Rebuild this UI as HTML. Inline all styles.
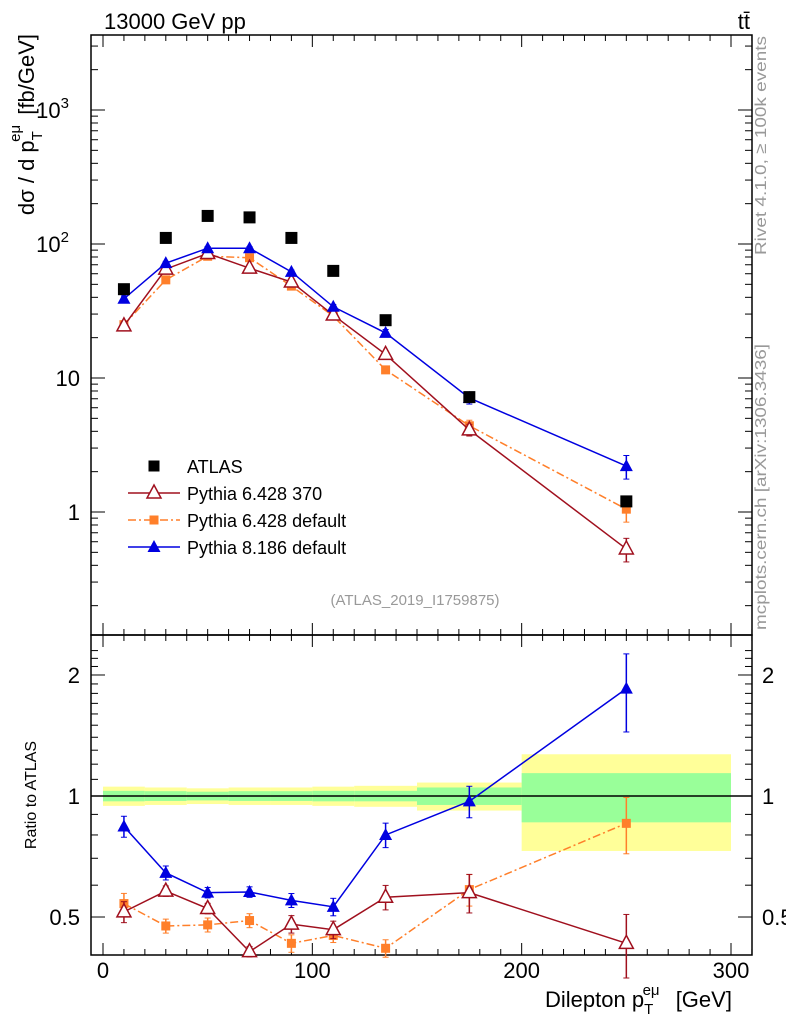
<!DOCTYPE html>
<html><head><meta charset="utf-8"><style>
body{margin:0;background:#fff;}
svg{display:block;font-family:"Liberation Sans",sans-serif;}
</style></head><body>
<svg id="c" width="786" height="1024" viewBox="0 0 786 1024"></svg>
<script>
const xCenters=[10,30,50,70,90,110,135,175,250];
const atlas=[46,111,162,158,111,63,27,7.2,1.2];
const py6370=[24.5,65,85,66,52,29.5,15,4.1,0.53];
const py6def=[25,54,81,79,48.5,29,11.5,4.4,1.05];
const py8=[39,72,93,93,62,34,21.7,7.1,2.2];
const r6370=[0.515,0.58,0.525,0.41,0.48,0.465,0.56,0.575,0.43];
const r6370Err=[0.06,0.03,0.03,0.03,0.05,0.05,0.07,0.11,0.18];
const r6def=[0.54,0.475,0.478,0.49,0.43,0.45,0.418,0.585,0.855];
const r6defErr=[0.06,0.04,0.04,0.04,0.05,0.04,0.05,0.09,0.16];
const r8=[0.84,0.644,0.575,0.577,0.55,0.53,0.80,0.97,1.85];
const r8Err=[0.06,0.04,0.03,0.03,0.04,0.05,0.07,0.09,0.22];
const binEdges=[0,20,40,60,80,100,120,150,200,300];
const bandYellow=[0.055,0.05,0.045,0.05,0.05,0.055,0.06,0.08,0.27];
const bandGreen=[0.03,0.028,0.025,0.028,0.028,0.03,0.03,0.05,0.14];
const xTicks=[0,100,200,300];

const NS="http://www.w3.org/2000/svg";
const svg=document.getElementById('c');
function el(t,a,p){const e=document.createElementNS(NS,t);for(const k in a)e.setAttribute(k,a[k]);(p||svg).appendChild(e);return e;}
const L=91,R=752,T=35,M=635,B=955;
const X=v=>103+v*(731-103)/300;
const Y=v=>512-134*Math.log10(v);
const RY=v=>796-402*Math.log10(v);

const gb=el('g',{});


for(let i=0;i<binEdges.length-1;i++){
  const x0=X(binEdges[i]),x1=X(binEdges[i+1]);
  const y=el('rect',{x:x0,y:RY(1+bandYellow[i]),width:x1-x0,height:RY(1-bandYellow[i])-RY(1+bandYellow[i]),fill:'#ffff99'},gb);
  
  
  const g=el('rect',{x:x0,y:RY(1+bandGreen[i]),width:x1-x0,height:RY(1-bandGreen[i])-RY(1+bandGreen[i]),fill:'#99ff99'},gb);
  
  
}
el('line',{x1:L,x2:R,y1:RY(1),y2:RY(1),stroke:'#000','stroke-width':1.5});

for(const [t,b] of [[T,M],[M,B]]){
  const f=el('rect',{x:L,y:t,width:R-L,height:b-t,fill:'none',stroke:'#000','stroke-width':1.5});
  
  
}
for(let v=0;v<=310;v+=10){
  const big=v%100===0, len=big?12:6;
  for(const yb of [M,B]) el('line',{x1:X(v),x2:X(v),y1:yb,y2:yb-len,stroke:'#000'});
  el('line',{x1:X(v),x2:X(v),y1:T,y2:T+len,stroke:'#000'});
  el('line',{x1:X(v),x2:X(v),y1:M,y2:M+len,stroke:'#000'});
}
xTicks.forEach(v=>{const t=el('text',{x:X(v),y:978,'font-size':22,'text-anchor':'middle'});t.textContent=v;
});
for(let d=-1;d<=3;d++){for(let k=1;k<10;k++){const v=k*Math.pow(10,d);const y=Y(v);if(y<T||y>M)continue;
const len=k===1?14:7;el('line',{x1:L,x2:L+len,y1:y,y2:y,stroke:'#000'});el('line',{x1:R,x2:R-len,y1:y,y2:y,stroke:'#000'});}}
[[1,'1'],[10,'10'],[100,'10'],[1000,'10']].forEach((p,i)=>{const t=el('text',{x:80,y:Y(p[0])+8,'font-size':22,'text-anchor':'end'});t.textContent=p[1];
if(i>=2){t.setAttribute('x',69);const s=el('tspan',{dy:-10,'font-size':15},t);s.textContent=i===2?'2':'3';}
});
for(let v=0.4;v<=2.31;v+=0.1){const y=RY(v);if(y<M||y>B)continue;const big=Math.abs(v-0.5)<1e-6||Math.abs(v-1)<1e-6||Math.abs(v-2)<1e-6;const len=big?14:7;
el('line',{x1:L,x2:L+len,y1:y,y2:y,stroke:'#000'});el('line',{x1:R,x2:R-len,y1:y,y2:y,stroke:'#000'});}
[[2,'2'],[1,'1'],[0.5,'0.5']].forEach(p=>{for(const [x,a] of [[80,'end'],[762,'start']]){const t=el('text',{x:x,y:RY(p[0])+8,'font-size':22,'text-anchor':a});t.textContent=p[1];
}});

function marker(type,x,y,c,g,s){
  s=s||6;
  if(type==='sq') return el('rect',{x:x-s,y:y-s,width:2*s,height:2*s,fill:c},g);
  if(type==='osq') return el('rect',{x:x-4.5,y:y-4.5,width:9,height:9,fill:c},g);
  if(type==='tri') return el('polygon',{points:`${x},${y-7} ${x-6.5},${y+5} ${x+6.5},${y+5}`,fill:c},g);
  return el('polygon',{points:`${x},${y-8} ${x-7},${y+5} ${x+7},${y+5}`,fill:'#fff',stroke:c,'stroke-width':1.5},g);
}
function series(name,vals,errs,yf,c,type,dash){
  const g=el('g',{});
  
  
  const pts=vals.map((v,i)=>X(xCenters[i])+','+yf(v)).join(' ');
  if(type!=='sq') el('polyline',{points:pts,fill:'none',stroke:c,'stroke-width':1.5,'stroke-dasharray':dash||'none'},g);
  vals.forEach((v,i)=>{
    const x=X(xCenters[i]);
    if(errs){const y1=yf(v*(1+errs[i])),y2=yf(Math.max(v*(1-errs[i]),0.01));
      el('line',{x1:x,x2:x,y1:y1,y2:y2,stroke:c,'stroke-width':1.5},g);
      el('line',{x1:x-3,x2:x+3,y1:y1,y2:y1,stroke:c},g);el('line',{x1:x-3,x2:x+3,y1:y2,y2:y2,stroke:c},g);}
    const m=marker(type,x,yf(v),c,g);
    
    
  });
}
const mainErr=[0.05,0.03,0.03,0.03,0.03,0.04,0.06,0.1,0.2];
series('pythia6-default-main',py6def,mainErr,Y,'#ff7f2a','osq','8,3,2,3');
series('pythia6-370-main',py6370,mainErr,Y,'#a0101e','otri');
series('pythia8-main',py8,mainErr,Y,'#0000e0','tri');
series('atlas-data',atlas,null,Y,'#000','sq');
series('pythia6-default-ratio',r6def,r6defErr,RY,'#ff7f2a','osq','8,3,2,3');
series('pythia6-370-ratio',r6370,r6370Err,RY,'#a0101e','otri');
series('pythia8-ratio',r8,r8Err,RY,'#0000e0','tri');

const lg=el('g',{});


const leg=[['ATLAS','#000','sq',null],['Pythia 6.428 370','#a0101e','otri',null],['Pythia 6.428 default','#ff7f2a','osq','8,3,2,3'],['Pythia 8.186 default','#0000e0','tri',null]];
leg.forEach((e,i)=>{const y=466+i*27;
  if(e[2]!=='sq') el('line',{x1:128,x2:180,y1:y,y2:y,stroke:e[1],'stroke-width':1.5,'stroke-dasharray':e[3]||'none'},lg);
  marker(e[2],154,y,e[1],lg,e[2]==='sq'?5.5:6);
  const t=el('text',{x:187,y:y+7,'font-size':18},lg);t.textContent=e[0];
  });

function txt(s,a,name){const t=el('text',a);t.textContent=s;return t;}
txt('13000 GeV pp',{x:104,y:29,'font-size':22},'beam-label');
txt('tt̄',{x:750,y:29,'font-size':22,'text-anchor':'end'},'process-label');
txt('(ATLAS_2019_I1759875)',{x:415,y:605,'font-size':15,fill:'#999','text-anchor':'middle'},'analysis-id');
txt('Rivet 4.1.0, ≥ 100k events',{x:0,y:0,'font-size':16,fill:'#999','text-anchor':'end',textLength:219,lengthAdjust:'spacingAndGlyphs',transform:'translate(766,36) rotate(-90)'},'rivet-label');
txt('mcplots.cern.ch [arXiv:1306.3436]',{x:0,y:0,'font-size':16,fill:'#999','text-anchor':'end',textLength:286,lengthAdjust:'spacingAndGlyphs',transform:'translate(766,344) rotate(-90)'},'mcplots-label');
const yt=txt('dσ / d p',{x:0,y:0,'font-size':22,'text-anchor':'end',transform:'translate(34,34) rotate(-90)'},'y-axis-title');
let s=el('tspan',{dy:8,'font-size':15},yt);s.textContent='T';
s=el('tspan',{dx:-9,dy:-22,'font-size':15},yt);s.textContent='eμ';
s=el('tspan',{dx:4,dy:14},yt);s.textContent=' [fb/GeV]';
txt('Ratio to ATLAS',{x:0,y:0,'font-size':16,'text-anchor':'middle',transform:'translate(36,795) rotate(-90)'},'ratio-axis-title');
const xt=txt('Dilepton p',{x:545,y:1007,'font-size':22},'x-axis-title');
s=el('tspan',{dy:7,'font-size':15},xt);s.textContent='T';
s=el('tspan',{dx:-9,dy:-19,'font-size':15},xt);s.textContent='eμ';
s=el('tspan',{dx:10,dy:12},xt);s.textContent=' [GeV]';
</script>
</body></html>
